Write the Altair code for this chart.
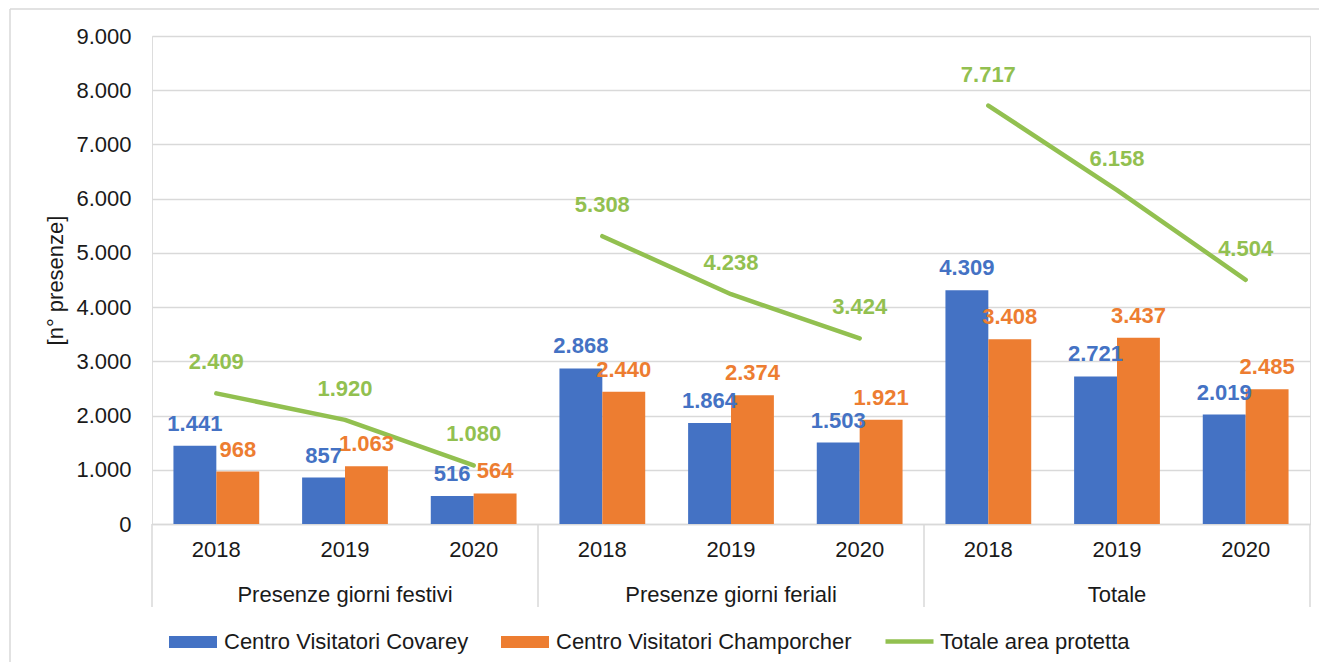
import altair as alt
import pandas as pd

groups = ["Presenze giorni festivi", "Presenze giorni feriali", "Totale"]
years = ["2018", "2019", "2020"]
covarey = [1441, 857, 516, 2868, 1864, 1503, 4309, 2721, 2019]
champorcher = [968, 1063, 564, 2440, 2374, 1921, 3408, 3437, 2485]
totale = [2409, 1920, 1080, 5308, 4238, 3424, 7717, 6158, 4504]
series = ["Centro Visitatori Covarey", "Centro Visitatori Champorcher", "Totale area protetta"]
colors = ["#4472C4", "#ED7D31", "#92C050"]
y_ticks = [0, 1000, 2000, 3000, 4000, 5000, 6000, 7000, 8000, 9000]

FONT = "Liberation Sans"
GRID = "#d9d9d9"
TXT = "#1a1a1a"
W, H = 1158, 488

cats = [f"{g}|{y}" for g in groups for y in years]
cat_group = [g for g in groups for _ in years]


def it_fmt(v):
    return f"{v:,}".replace(",", ".")


bar_rows = []
for i, c in enumerate(cats):
    for s, vals, col in [(series[0], covarey, colors[0]), (series[1], champorcher, colors[1])]:
        bar_rows.append({"cat": c, "group": cat_group[i], "series": s,
                         "value": vals[i], "label": it_fmt(vals[i]), "hex": col})
bar_df = pd.DataFrame(bar_rows)

line_df = pd.DataFrame({"cat": cats, "group": cat_group, "series": series[2],
                        "value": totale, "label": [it_fmt(v) for v in totale]})

xaxis = alt.Axis(title=None, labelExpr="split(datum.value, '|')[1]", labelAngle=0,
                 labelFont=FONT, labelFontSize=22, labelColor=TXT, labelPadding=15,
                 ticks=False, domainColor=GRID, domainWidth=1.5, grid=False)
yaxis = alt.Axis(title="[n° presenze]", values=y_ticks,
                 labelExpr="datum.value == 0 ? '0' : replace(format(datum.value, ','), ',', '.')",
                 labelFont=FONT, labelFontSize=22, labelColor=TXT, labelPadding=21,
                 titleFont=FONT, titleFontSize=22, titleFontWeight="normal", titleColor=TXT,
                 titlePadding=8, ticks=False, domain=False, grid=True,
                 gridColor=GRID, gridWidth=1.5)

xscale = alt.Scale(domain=cats, paddingInner=0, paddingOuter=0)
yscale = alt.Scale(domain=[0, 9000])
X = alt.X("cat:N", scale=xscale, axis=xaxis, sort=cats)
Y = alt.Y("value:Q", scale=yscale, axis=yaxis)
XOFF = alt.XOffset("series:N", scale=alt.Scale(domain=series[:2], paddingInner=0, paddingOuter=0.5))

bars = alt.Chart(bar_df).mark_bar().encode(
    x=X, xOffset=XOFF, y=Y,
    fill=alt.Fill("series:N", scale=alt.Scale(domain=series[:2], range=colors[:2]),
                  legend=alt.Legend(title=None, orient="none", direction="horizontal",
                                    legendX=17, legendY=582, padding=0,
                                    symbolType="M-1,-0.25H1V0.25H-1Z", symbolSize=2304,
                                    symbolStrokeWidth=0, labelFont=FONT, labelFontSize=22,
                                    labelColor=TXT, labelOffset=7, columnPadding=32,
                                    labelLimit=0)),
)

bar_labels = alt.Chart(bar_df).mark_text(font=FONT, fontSize=22, fontWeight="bold",
                                         baseline="middle", dy=-22).encode(
    x=X, xOffset=XOFF, y=Y, text="label:N", color=alt.Color("hex:N", scale=None))

line = alt.Chart(line_df).mark_line(strokeWidth=4.5, strokeCap="round", strokeJoin="round").encode(
    x=X, y=Y, detail="group:N",
    stroke=alt.Stroke("series:N", scale=alt.Scale(domain=[series[2]], range=[colors[2]]),
                      legend=alt.Legend(title=None, orient="none", direction="horizontal",
                                        legendX=731, legendY=579, padding=0,
                                        symbolType="stroke", symbolSize=2304,
                                        symbolStrokeWidth=4.5, labelFont=FONT,
                                        labelFontSize=22, labelColor=TXT, labelOffset=4,
                                        labelLimit=0)),
)

line_labels = alt.Chart(line_df).mark_text(font=FONT, fontSize=22, fontWeight="bold",
                                           baseline="middle", dy=-31, color=colors[2]).encode(
    x=X, y=Y, text="label:N")

sep_df = pd.DataFrame({"cat": [cats[0], cats[3], cats[6]]})
sep = alt.Chart(sep_df).mark_rule(color=GRID, strokeWidth=1.5).encode(
    x=alt.X("cat:N", scale=xscale, axis=xaxis, sort=cats, bandPosition=0),
    y=alt.value(H), y2=alt.value(H + 83))
sep_end = alt.Chart(pd.DataFrame({"cat": [cats[-1]]})).mark_rule(color=GRID, strokeWidth=1.5).encode(
    x=alt.X("cat:N", scale=xscale, axis=xaxis, sort=cats, bandPosition=1),
    y=alt.value(H), y2=alt.value(H + 83))

grp_df = pd.DataFrame({"cat": [cats[1], cats[4], cats[7]], "group": groups})
grp_labels = alt.Chart(grp_df).mark_text(font=FONT, fontSize=22, color=TXT,
                                         baseline="alphabetic").encode(
    x=X, y=alt.value(H + 78), text="group:N")

one = pd.DataFrame({"a": [0]})
border_top = alt.Chart(one).mark_rule(color=GRID, strokeWidth=1.5).encode(
    x=alt.value(-142), x2=alt.value(W + 9), y=alt.value(-27))
border_left = alt.Chart(one).mark_rule(color=GRID, strokeWidth=1.5).encode(
    x=alt.value(-142), y=alt.value(-27), y2=alt.value(H + 140))

chart = alt.layer(
    border_top, border_left, bars, sep, sep_end, line, bar_labels, line_labels, grp_labels
).properties(
    width=W, height=H,
    padding={"left": 144, "top": 28, "right": 9, "bottom": 138},
    autosize=alt.AutoSizeParams(type="none"),
).configure_view(stroke=None).configure(background="white")

chart.save("out.html", embed_options={"renderer": "svg", "actions": False})
